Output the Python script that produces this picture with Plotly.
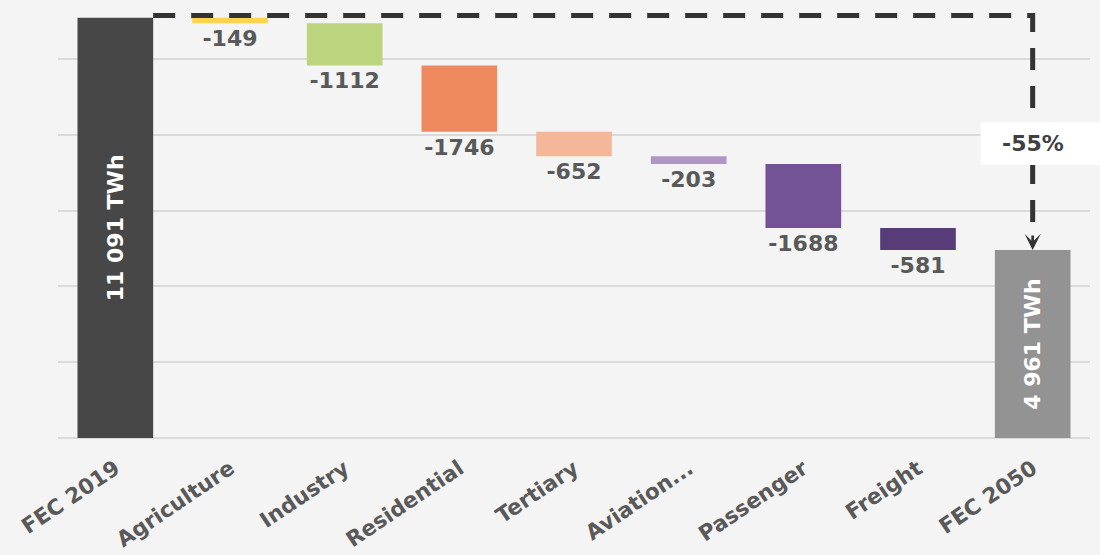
import plotly.graph_objects as go

# ---- data ----
categories = ["FEC 2019", "Agriculture", "Industry", "Residential", "Tertiary",
              "Aviation...", "Passenger", "Freight", "FEC 2050"]
start_total = 11091
end_total = 4961
deltas = [-149, -1112, -1746, -652, -203, -1688, -581]
delta_colors = ["#FFD34F", "#BDD47E", "#EE8A5E", "#F5B799", "#B194C8", "#745296", "#573C78"]
total_colors = ["#474747", "#939393"]

FONT = "DejaVu Sans"
LABEL_GREY = "#595959"

xs = list(range(len(categories)))

# running bases for the deltas
bases = []
run = start_total
for d in deltas:
    bases.append(run)
    run += d

fig = go.Figure()

# totals
fig.add_trace(go.Bar(
    x=[xs[0], xs[-1]],
    y=[start_total, end_total],
    marker=dict(color=total_colors, line=dict(width=0)),
    width=0.66,
    text=[f"{start_total:,} TWh".replace(",", " "), f"{end_total:,} TWh".replace(",", " ")],
    textposition="inside",
    insidetextanchor="middle",
    textangle=-90,
    textfont=dict(family=FONT, size=22, color="white", weight="bold"),
    constraintext="none",
    hoverinfo="skip",
    showlegend=False,
))

# deltas
fig.add_trace(go.Bar(
    x=xs[1:-1],
    y=deltas,
    base=bases,
    marker=dict(color=delta_colors, line=dict(width=0)),
    width=0.66,
    text=[str(d) for d in deltas],
    textposition="outside",
    textfont=dict(family=FONT, size=22, color=LABEL_GREY, weight="bold"),
    constraintext="none",
    cliponaxis=False,
    hoverinfo="skip",
    showlegend=False,
))

# dashed connector from first total to final total
y_line = start_total + 60
fig.add_shape(
    type="path",
    xref="x", yref="y",
    path=f"M {xs[0] + 0.33},{y_line} L {xs[-1]},{y_line} L {xs[-1]},{end_total + 330}",
    line=dict(color="#333333", width=5, dash="22px,16px"),
    layer="above",
)

# white box behind percentage label
fig.add_shape(
    type="rect", xref="paper", yref="paper",
    x0=0.894, x1=1.02, y0=0.632, y1=0.731,
    fillcolor="white", line=dict(width=0), layer="above",
)

# arrow head onto final bar
fig.add_annotation(
    x=xs[-1], y=end_total, xref="x", yref="y",
    text="", showarrow=True, arrowhead=3, arrowsize=1, arrowwidth=2.7,
    arrowcolor="#333333", ax=0, ay=-16, standoff=0,
)

# percentage label
pct = round((end_total - start_total) / start_total * 100)
fig.add_annotation(
    x=xs[-1], y=0.6815, xref="x", yref="paper",
    text=f"{pct}%", showarrow=False,
    font=dict(family=FONT, size=22, color="#404040", weight="bold"),
    xanchor="center", yanchor="middle",
)

fig.update_layout(
    width=1100, height=555,
    margin=dict(l=58, r=10, t=6, b=117, autoexpand=False),
    paper_bgcolor="#F4F4F4",
    plot_bgcolor="#F4F4F4",
    barmode="overlay",
    showlegend=False,
    xaxis=dict(
        tickmode="array", tickvals=xs, ticktext=categories,
        range=[-0.5, len(categories) - 0.5],
        tickangle=-34,
        tickfont=dict(family=FONT, size=21.5, color=LABEL_GREY, weight="bold"),
        ticklabelstandoff=13,
        automargin=False,
        showgrid=False, zeroline=False, showline=False, ticks="",
    ),
    yaxis=dict(
        range=[0, 11400], dtick=2000, tick0=0,
        showticklabels=False, showgrid=True, gridcolor="#DADADA", gridwidth=1.5,
        zeroline=True, zerolinecolor="#DADADA", zerolinewidth=1.5,
        ticks="", showline=False, automargin=False,
    ),
)

fig.write_html("out.html")
